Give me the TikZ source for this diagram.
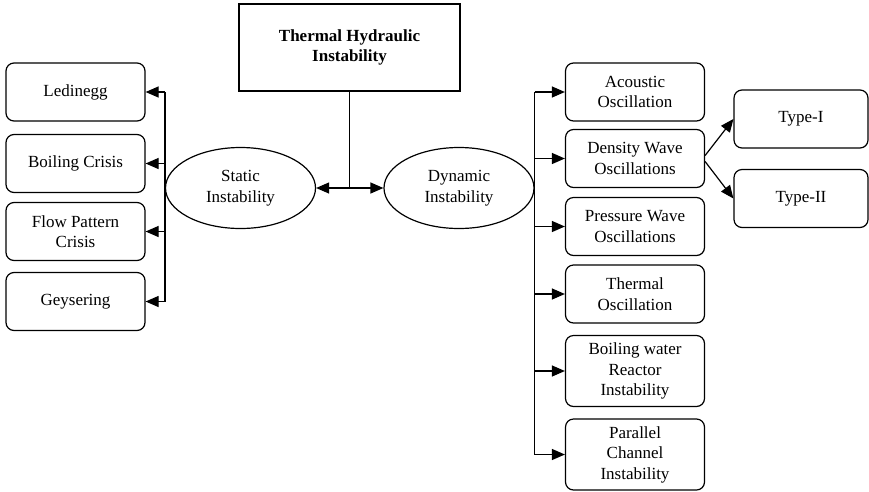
\documentclass[tikz,border=0pt]{standalone}
\usepackage{fontspec}
\setmainfont{Liberation Serif}
\usetikzlibrary{arrows.meta,shapes.geometric}

\begin{document}
\begin{tikzpicture}
[x=1pt, y=-1pt, >={Triangle[length=13pt,width=11pt]}, line width=1.2pt,
every node/.style={font=\fontsize{17}{20.5}\selectfont, align=center, inner sep=0pt},
root/.style={draw, minimum width=221pt, minimum height=87pt, font=\fontsize{17}{20.5}\selectfont\bfseries},
branch/.style={draw, ellipse, minimum width=150pt, minimum height=81pt},
leaf/.style={draw, rounded corners=8pt, minimum width=139pt, minimum height=58pt},
tall/.style={leaf, minimum height=71pt},
kind/.style={leaf, minimum width=134pt}
]
  \useasboundingbox (0,0) rectangle (869,491);

  \node[root] (thi) at (349.5,47.5) {Thermal Hydraulic\\Instability};
  \node[branch] (static)  at (240.5,188) {Static\\Instability};
  \node[branch] (dynamic) at (459,188)   {Dynamic\\Instability};
  \coordinate (split) at (thi.south |- static.east);
  \coordinate (sbus) at (165,188);

  % static side
  \node[leaf] (ledinegg) at (75.5,92)    {Ledinegg};
  \node[leaf] (boiling)  at (75.5,163.5) {Boiling Crisis};
  \node[leaf] (flow)     at (75.5,231.5) {Flow Pattern\\Crisis};
  \node[leaf] (geyser)   at (75.5,301.5) {Geysering};

  % dynamic side
  \node[leaf] (acoustic) at (635,92)    {Acoustic\\Oscillation};
  \node[leaf] (density)  at (635,158.5) {Density Wave\\Oscillations};
  \node[leaf] (pressure) at (635,226.5) {Pressure Wave\\Oscillations};
  \node[leaf] (thermal)  at (635,294)   {Thermal\\Oscillation};
  \node[tall] (bwr)      at (635,371)   {Boiling water\\Reactor\\Instability};
  \node[tall] (parallel) at (635,454.5) {Parallel\\Channel\\Instability};
  \node[kind] (type1) at (801,119)   {Type-I};
  \node[kind] (type2) at (801,198.5) {Type-II};

  \draw (thi.south) -- (split);
  \draw[->] (split) -- (static.east);
  \draw[->] (split) -- (dynamic.west);

  \draw (ledinegg.east -| sbus) -- (geyser.east -| sbus);
  \foreach \n in {ledinegg,boiling,flow,geyser}
    \draw[->] (\n.east -| sbus) -- (\n.east);

  \draw (acoustic.west -| dynamic.east) -- (parallel.west -| dynamic.east);
  \foreach \n in {acoustic,density,pressure,thermal,bwr,parallel}
    \draw[->] (\n.west -| dynamic.east) -- (\n.west);

  \draw[->] ([yshift=3pt]density.east) -- (type1.west);
  \draw[->] ([yshift=-3pt]density.east) -- (type2.west);
\end{tikzpicture}
\end{document}
